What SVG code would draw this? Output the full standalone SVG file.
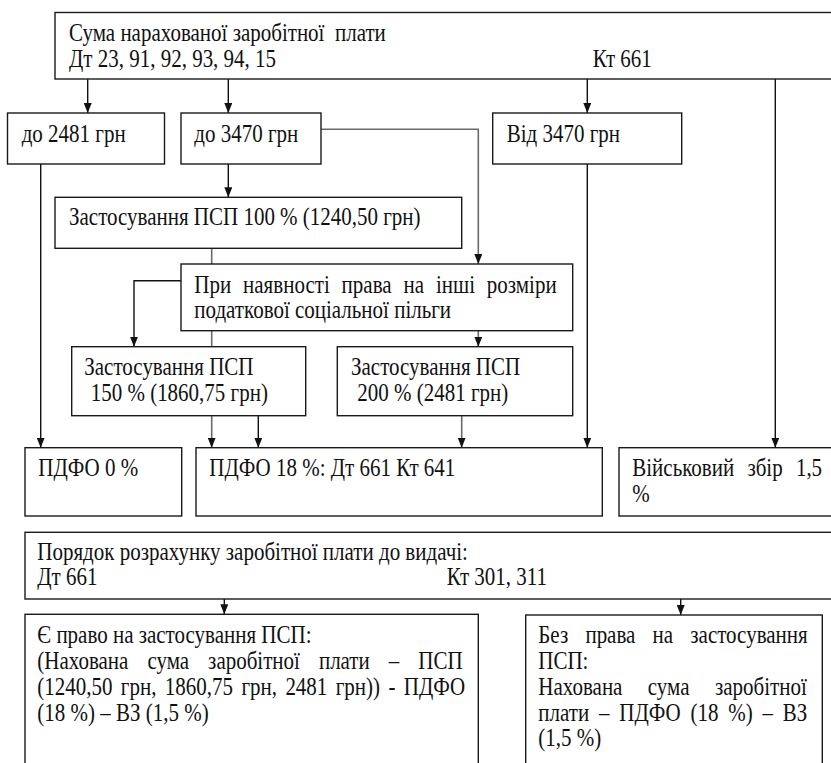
<svg xmlns="http://www.w3.org/2000/svg" width="831" height="763" viewBox="0 0 831 763">
<style>
.box{fill:#fff;stroke:#1a1a1a;stroke-width:1.4}
.t{font-family:"Liberation Serif","Times New Roman",serif;font-size:21px;fill:#111}
.c{fill:none;stroke:#111;stroke-width:1.4}
.g{fill:none;stroke:#6a6a6a;stroke-width:1.6}
</style>
<defs>
<marker id="ah" viewBox="0 0 10 8" markerWidth="10" markerHeight="8" refX="10" refY="4" orient="auto" markerUnits="userSpaceOnUse">
<path d="M0,0 L10,4 L0,8 z" fill="#111"/>
</marker>
</defs>
<rect width="831" height="763" fill="#fff"/>

<g id="connectors">
<path class="c" d="M87.7,79 V113" marker-end="url(#ah)"/>
<path class="c" d="M228.3,79 V113" marker-end="url(#ah)"/>
<path class="c" d="M587.3,79 V113" marker-end="url(#ah)"/>
<path class="c" d="M775.3,79 V447.7" marker-end="url(#ah)"/>
<path class="c" d="M40.7,164 V447.7" marker-end="url(#ah)"/>
<path class="c" d="M228.3,164 V197.3" marker-end="url(#ah)"/>
<path class="c" d="M587.3,164 V447.7" marker-end="url(#ah)"/>
<path class="g" d="M321,129.3 H478.3 V264" marker-end="url(#ah)"/>
<path class="g" d="M211.7,248.3 V264"/>
<path class="c" d="M181,280.7 H134 V346.7" marker-end="url(#ah)"/>
<path class="g" d="M211.7,330.7 V346.7"/>
<path class="g" d="M478.3,330.7 V346.7" marker-end="url(#ah)"/>
<path class="g" d="M211.7,415.7 V447.7" marker-end="url(#ah)"/>
<path class="c" d="M258.3,415.7 V447.7" marker-end="url(#ah)"/>
<path class="g" d="M461.7,415.7 V447.7" marker-end="url(#ah)"/>
<path class="c" d="M224.3,599 V614.3" marker-end="url(#ah)"/>
<path class="c" d="M680.7,599 V615" marker-end="url(#ah)"/>
</g>

<g id="top">
<rect class="box" x="55" y="12.5" width="800" height="66.5"/>
<text class="t" xml:space="preserve" transform="translate(69 41) scale(1 1.15)">Сума нарахованої заробітної  плати</text>
<text class="t" transform="translate(69 67) scale(1 1.15)">Дт 23, 91, 92, 93, 94, 15</text>
<text class="t" transform="translate(592.7 67) scale(1 1.15)">Кт 661</text>
</g>

<g id="to2481">
<rect class="box" x="7.5" y="113" width="157" height="51"/>
<text class="t" transform="translate(21.7 141.7) scale(1 1.15)">до 2481 грн</text>
</g>

<g id="to3470">
<rect class="box" x="181" y="113" width="140" height="51"/>
<text class="t" transform="translate(194.3 141.7) scale(1 1.15)">до 3470 грн</text>
</g>

<g id="from3470">
<rect class="box" x="492.7" y="113" width="189" height="51"/>
<text class="t" transform="translate(506.7 141.7) scale(1 1.15)">Від 3470 грн</text>
</g>

<g id="psp100">
<rect class="box" x="55" y="197.3" width="406.7" height="51"/>
<text class="t" transform="translate(69 225) scale(1 1.15)">Застосування ПСП 100 % (1240,50 грн)</text>
</g>

<g id="other">
<rect class="box" x="181" y="264" width="391.7" height="66.7"/>
<text class="t" word-spacing="6.65" transform="translate(194.3 293.3) scale(1 1.15)">При наявності права на інші розміри</text>
<text class="t" transform="translate(194.3 317.7) scale(1 1.15)">податкової соціальної пільги</text>
</g>

<g id="psp150">
<rect class="box" x="71.7" y="346.7" width="234" height="69"/>
<text class="t" transform="translate(84.3 375) scale(1 1.15)">Застосування ПСП</text>
<text class="t" transform="translate(90.7 400.7) scale(1 1.15)">150 % (1860,75 грн)</text>
</g>

<g id="psp200">
<rect class="box" x="337.3" y="346.7" width="235.4" height="69"/>
<text class="t" transform="translate(351 375) scale(1 1.15)">Застосування ПСП</text>
<text class="t" transform="translate(357.3 400.7) scale(1 1.15)">200 % (2481 грн)</text>
</g>

<g id="pdfo0">
<rect class="box" x="25" y="447.7" width="156.7" height="68.3"/>
<text class="t" transform="translate(38.3 476) scale(1 1.15)">ПДФО 0 %</text>
</g>

<g id="pdfo18">
<rect class="box" x="196" y="447.7" width="406.3" height="68.3"/>
<text class="t" transform="translate(209.3 476) scale(1 1.15)">ПДФО 18 %: Дт 661 Кт 641</text>
</g>

<g id="vz">
<rect class="box" x="619" y="447.7" width="230" height="68.3"/>
<text class="t" word-spacing="7.95" transform="translate(632.3 476) scale(1 1.15)">Військовий збір 1,5</text>
<text class="t" transform="translate(632.3 501.7) scale(1 1.15)">%</text>
</g>

<g id="order">
<rect class="box" x="25" y="532.3" width="830" height="66.7"/>
<text class="t" transform="translate(37.3 560) scale(1 1.15)">Порядок розрахунку заробітної плати до видачі:</text>
<text class="t" transform="translate(37.3 585) scale(1 1.15)">Дт 661</text>
<text class="t" transform="translate(446.7 585) scale(1 1.15)">Кт 301, 311</text>
</g>

<g id="withpsp">
<rect class="box" x="25" y="614.3" width="453.3" height="160"/>
<text class="t" transform="translate(37.3 643.3) scale(1 1.15)">Є право на застосування ПСП:</text>
<text class="t" word-spacing="13.75" transform="translate(37.3 669) scale(1 1.15)">(Нахована сума заробітної плати – ПСП</text>
<text class="t" word-spacing="3.15" transform="translate(37.3 695) scale(1 1.15)">(1240,50 грн, 1860,75 грн, 2481 грн)) - ПДФО</text>
<text class="t" transform="translate(37.3 721) scale(1 1.15)">(18 %) – ВЗ (1,5 %)</text>
</g>

<g id="withoutpsp">
<rect class="box" x="525.7" y="615" width="296.6" height="160"/>
<text class="t" word-spacing="11.95" transform="translate(538.3 643.3) scale(1 1.15)">Без права на застосування</text>
<text class="t" transform="translate(538.3 669) scale(1 1.15)">ПСП:</text>
<text class="t" word-spacing="20.15" transform="translate(538.3 695) scale(1 1.15)">Нахована сума заробітної</text>
<text class="t" word-spacing="4.55" transform="translate(538.3 721) scale(1 1.15)">плати – ПДФО (18 %) – ВЗ</text>
<text class="t" transform="translate(538.3 746) scale(1 1.15)">(1,5 %)</text>
</g>
</svg>
